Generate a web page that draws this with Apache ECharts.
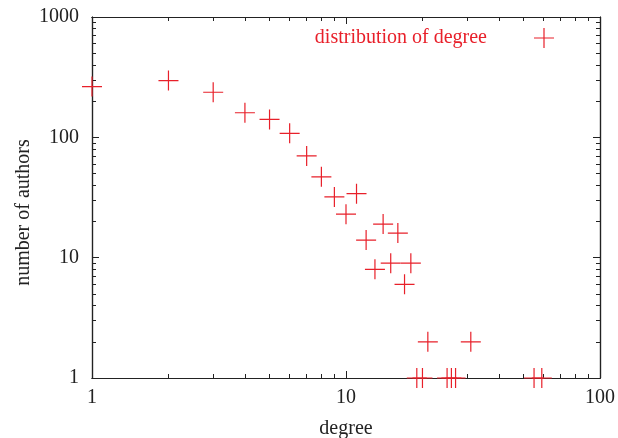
<!DOCTYPE html>
<html>
<head>
<meta charset="utf-8">
<script src="https://cdn.jsdelivr.net/npm/echarts@6/dist/echarts.min.js"></script>
<style>
  html, body { margin: 0; padding: 0; background: #fff; }
  #chart { width: 618px; height: 438px; }
</style>
</head>
<body>
<div id="chart"></div>
<script>
// ---- data ----
var degrees = [1, 2, 3, 4, 5, 6, 7, 8, 9, 10, 11, 12, 13, 14, 15, 16, 17, 18, 19, 20, 21, 25, 26, 27, 31, 55, 59];
var authors = [264, 296, 237, 160, 141, 108, 70, 47, 32, 23, 34, 14, 8, 19, 9, 16, 6, 9, 1, 1, 2, 1, 1, 1, 2, 1, 1];
var seriesName = 'distribution of degree';
var xMinorTicks = [2, 3, 4, 5, 6, 7, 8, 9, 20, 30, 40, 50, 60, 70, 80, 90];
var yMinorTicks = [2, 3, 4, 5, 6, 7, 8, 9, 20, 30, 40, 50, 60, 70, 80, 90, 200, 300, 400, 500, 600, 700, 800, 900];

var points = degrees.map(function (d, i) { return [d, authors[i]]; });

var RED = '#e8202a';
var INK = '#222222';
var FONT = '"Liberation Serif", "DejaVu Serif", serif';
var CROSS = 'path://M0,9.4H20V10.6H0Z M9.4,0H10.6V20H9.4Z';

function axis(kind, pos, opts) {
  var base = {
    type: 'log', logBase: 10, position: pos,
    min: 1, max: kind === 'x' ? 100 : 1000,
    splitLine: { show: false },
    axisLine: { show: true, onZero: false, lineStyle: { color: INK, width: 1.2 } },
    axisTick: { show: true, inside: true, length: 7, lineStyle: { color: INK, width: 1 } },
    axisLabel: { show: false },
    minorTick: { show: false }
  };
  return Object.assign(base, opts || {});
}
function minorAxis(kind, pos, vals) {
  return axis(kind, pos, {
    axisTick: { show: true, inside: true, length: 4, customValues: vals, lineStyle: { color: INK, width: 1 } }
  });
}

var chart = echarts.init(document.getElementById('chart'), null, { renderer: 'canvas' });
chart.setOption({
  animation: false,
  backgroundColor: '#ffffff',
  textStyle: { fontFamily: FONT },
  grid: { left: 92, right: 18, top: 17, bottom: 60, containLabel: false, outerBoundsMode: 'none' },
  legend: {
    show: true,
    right: 59, top: 23,
    align: 'right',
    icon: CROSS,
    itemWidth: 104, itemHeight: 20,
    symbolKeepAspect: true,
    textStyle: { color: RED, fontSize: 20, fontFamily: FONT },
    data: [seriesName]
  },
  xAxis: [
    axis('x', 'bottom', {
      name: 'degree', nameLocation: 'middle', nameGap: 41, nameMoveOverlap: false,
      nameTextStyle: { color: INK, fontSize: 20, fontFamily: FONT },
      axisLabel: { show: true, color: INK, fontSize: 20, fontFamily: FONT, margin: 10,
        formatter: function (v) { return String(Math.round(v)); } }
    }),
    minorAxis('x', 'bottom', xMinorTicks),
    axis('x', 'top'),
    minorAxis('x', 'top', xMinorTicks)
  ],
  yAxis: [
    axis('y', 'left', {
      name: 'number of authors', nameLocation: 'middle', nameGap: 58, nameRotate: 90,
      nameMoveOverlap: false,
      nameTextStyle: { color: INK, fontSize: 20, fontFamily: FONT, padding: [0, 30, 0, 0] },
      axisLabel: { show: true, color: INK, fontSize: 20, fontFamily: FONT, margin: 13,
        formatter: function (v) { return String(Math.round(v)); } }
    }),
    minorAxis('y', 'left', yMinorTicks),
    axis('y', 'right'),
    minorAxis('y', 'right', yMinorTicks)
  ],
  series: [{
    name: seriesName,
    type: 'scatter',
    xAxisIndex: 0, yAxisIndex: 0,
    data: points,
    symbol: CROSS,
    symbolSize: 20,
    clip: false,
    z: 5,
    itemStyle: { color: RED, opacity: 1 }
  }]
});
</script>
</body>
</html>
